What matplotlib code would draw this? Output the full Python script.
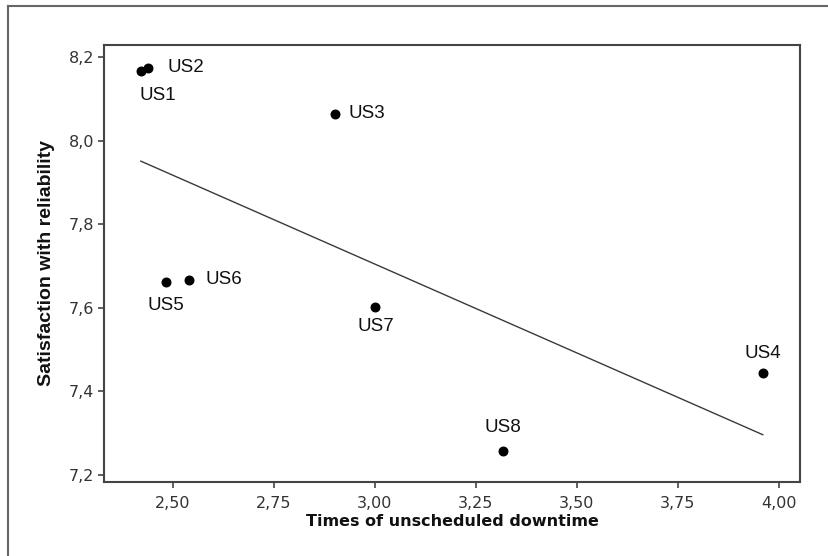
import numpy as np
import matplotlib
matplotlib.use("Agg")
import matplotlib.pyplot as plt
from matplotlib.ticker import FuncFormatter
from matplotlib.lines import Line2D

# ===== Data =====
units = ["US1", "US2", "US3", "US4", "US5", "US6", "US7", "US8"]
downtime = [2.421, 2.438, 2.901, 3.960, 2.483, 2.540, 3.000, 3.317]
satisfaction = [8.167, 8.174, 8.064, 7.444, 7.662, 7.667, 7.602, 7.257]

x_ticks = [2.50, 2.75, 3.00, 3.25, 3.50, 3.75, 4.00]
y_ticks = [7.2, 7.4, 7.6, 7.8, 8.0, 8.2]

# label placement (offset in points, ha, va)
label_pos = {
    "US1": ((-1, -18), "left", "center"),
    "US2": ((14, 0), "left", "center"),
    "US3": ((10, 0), "left", "center"),
    "US4": ((0, 14), "center", "center"),
    "US5": ((0, -17), "center", "center"),
    "US6": ((12, 0), "left", "center"),
    "US7": ((1, -14), "center", "center"),
    "US8": ((0, 17), "center", "center"),
}

# ===== Figure =====
fig = plt.figure(figsize=(8.29, 5.56), dpi=100)
ax = fig.add_axes([0.1255, 0.1331, 0.8395, 0.7860])

# regression line
slope, intercept = np.polyfit(downtime, satisfaction, 1)
xs = np.array([min(downtime), max(downtime)])
ax.plot(xs, slope * xs + intercept, color="#3a3a3a", lw=1.0)

ax.scatter(downtime, satisfaction, s=38, color="black", zorder=3)

for name, x, y in zip(units, downtime, satisfaction):
    off, ha, va = label_pos[name]
    ax.annotate(name, (x, y), xytext=off, textcoords="offset points",
                ha=ha, va=va, fontsize=13.5, family="Liberation Sans", color="#111111")

ax.set_xlim(2.33, 4.052)
ax.set_ylim(7.183, 8.229)
ax.set_xticks(x_ticks)
ax.set_yticks(y_ticks)
ax.xaxis.set_major_formatter(FuncFormatter(lambda v, p: f"{v:.2f}".replace(".", ",")))
ax.yaxis.set_major_formatter(FuncFormatter(lambda v, p: f"{v:.1f}".replace(".", ",")))
ax.tick_params(axis="both", length=4, width=1.2, color="#444444",
               labelsize=11.5, labelcolor="#333333", pad=3)
ax.tick_params(axis="x", pad=6)

for sp in ax.spines.values():
    sp.set_color("#444444")
    sp.set_linewidth(1.5)

ax.set_xlabel("Times of unscheduled downtime", fontsize=11.5, fontweight="bold",
              color="#111111", labelpad=2)
ax.set_ylabel("Satisfaction with reliability", fontsize=14, fontweight="bold",
              family="Liberation Sans", color="#111111", labelpad=10)

# outer frame (top and left edges only visible)
fig.add_artist(Line2D([8 / 829, 1.0], [1 - 6 / 556, 1 - 6 / 556],
                      transform=fig.transFigure, color="#666666", lw=1.5))
fig.add_artist(Line2D([8 / 829, 8 / 829], [0.0, 1 - 6 / 556],
                      transform=fig.transFigure, color="#666666", lw=1.5))

plt.savefig("out.png", dpi=100)
plt.close()
